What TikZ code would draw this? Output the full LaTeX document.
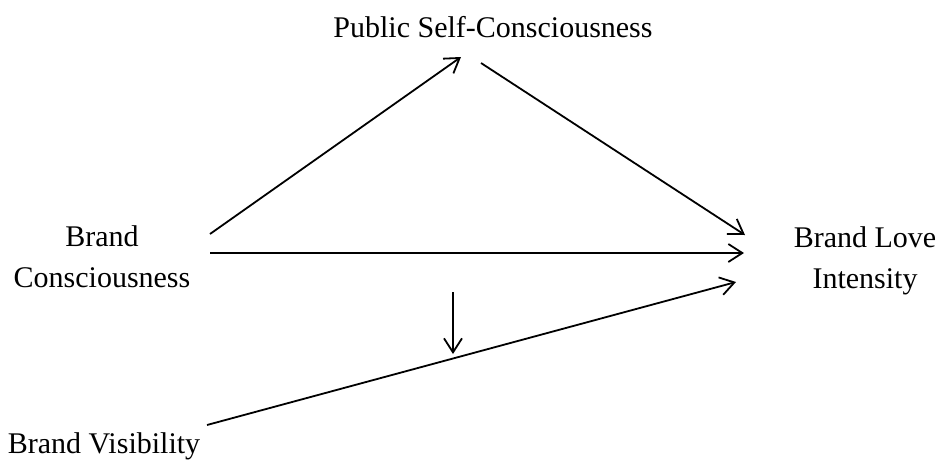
\documentclass[tikz,border=0pt]{standalone}
\usepackage{fontspec}
\setmainfont{Liberation Serif}
\usepackage{tikz}
\usetikzlibrary{arrows.meta, positioning, calc}

\begin{document}
\begin{tikzpicture}[x=0.5pt, y=-0.5pt,
		lbl/.style={align=center, inner sep=0pt, font=\fontsize{15}{20.5}\selectfont},
		arr/.style={line width=0.9pt, -{Straight Barb[length=7pt, width=9pt, line width=0.9pt]}}]
				\useasboundingbox (0,0) rectangle (944,467);
				% variables
				\node[lbl, anchor=base] (psc) at (493,37) {Public Self-Consciousness};
				\node[lbl] (bc) at (102,257) {Brand\\Consciousness};
				\node[lbl] (bli) at (865,261) {Brand Love\\Intensity};
				\node[lbl, anchor=base] (bv) at (104,453) {Brand Visibility};
				% arrow ends
				\coordinate (bc-up) at (210,234);
				\coordinate (bc-mid) at (210,253);
				\coordinate (psc-in) at (461,57);
				\coordinate (psc-out) at (481,63);
				\coordinate (bli-top) at (745,235);
				\coordinate (bli-mid) at (744,253);
				\coordinate (bli-low) at (736,282);
				\coordinate (bv-out) at (207,425);
				\coordinate (mod-top) at (453,292);
				\coordinate (mod-end) at (453,354);
				% paths
				\draw[arr] (bc-up) -- (psc-in);
				\draw[arr] (psc-out) -- (bli-top);
				\draw[arr] (bc-mid) -- (bli-mid);
				\draw[arr] (bv-out) -- (bli-low);
				\draw[arr] (mod-top) -- (mod-end);
			\end{tikzpicture}
\end{document}
